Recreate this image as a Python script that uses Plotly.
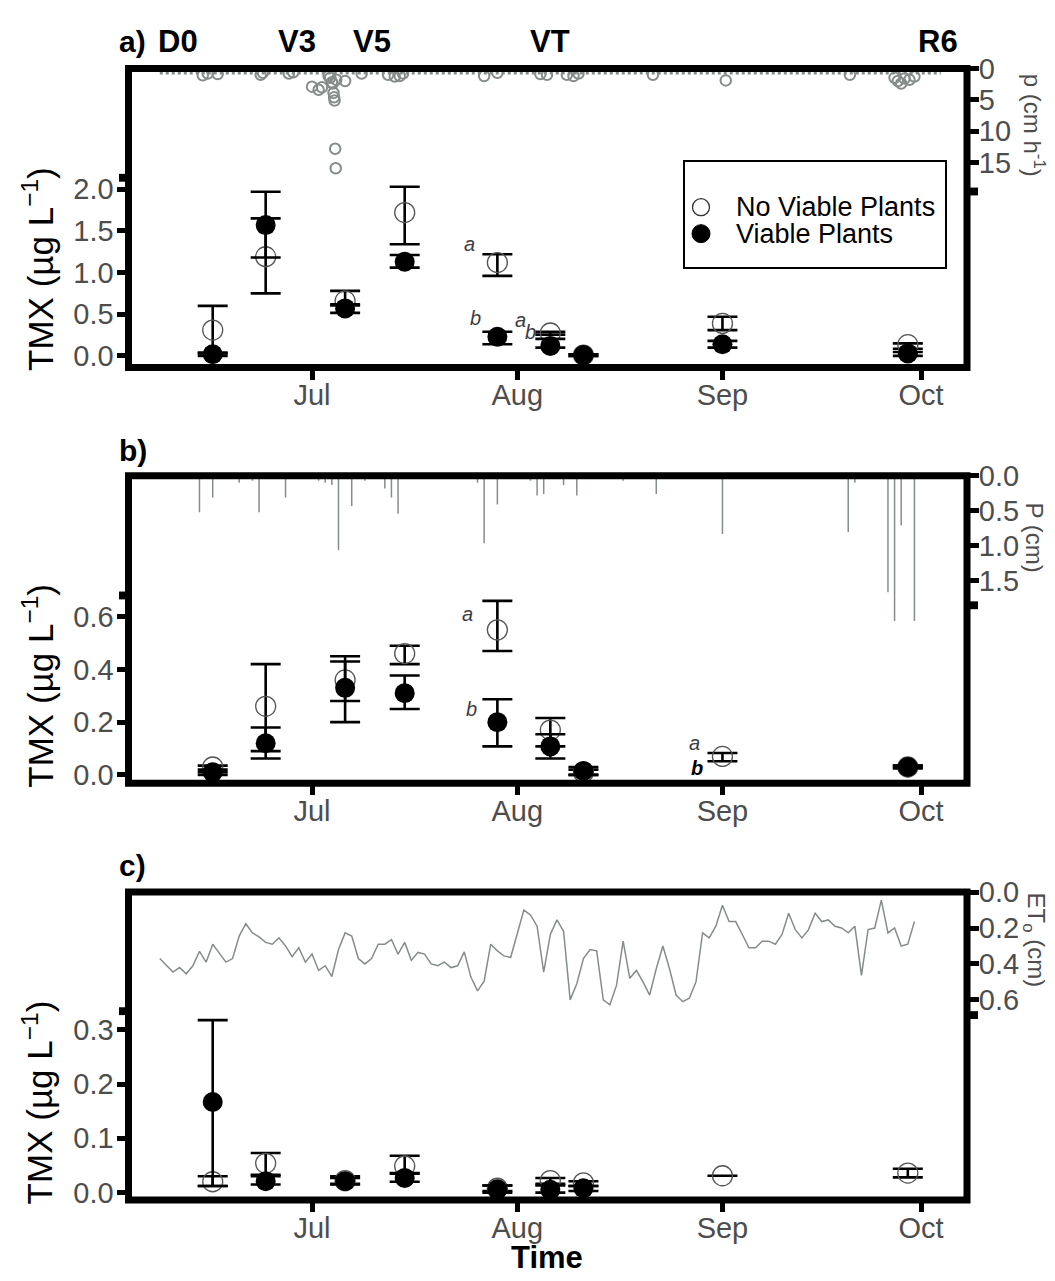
import plotly.graph_objects as go
import pandas as pd

W, H = 1055, 1281
FONT = "Liberation Sans, Arial, sans-serif"
GREY_TXT = "#4D4D4D"
RAIN_COL = "#858D8A"

# ---------------- data ----------------
sample_dates = ["2019-06-16", "2019-06-24", "2019-07-06", "2019-07-15", "2019-07-29",
                "2019-08-06", "2019-08-11", "2019-09-01", "2019-09-29"]

# panel a (TMX, ug/L)
nv_a = [0.31, 1.19, 0.66, 1.72, 1.12, 0.275, 0.01, 0.39, 0.135]
nv_a_lo = [0.03, 0.75, 0.605, 1.34, 0.96, 0.255, 0.0, 0.31, 0.086]
nv_a_hi = [0.60, 1.97, 0.78, 2.03, 1.22, 0.29, 0.02, 0.47, 0.15]
v_a = [0.02, 1.57, 0.57, 1.13, 0.23, 0.12, 0.01, 0.14, 0.03]
v_a_lo = [0.0, 1.18, 0.516, 1.06, 0.14, 0.10, 0.0, 0.10, 0.0]
v_a_hi = [0.04, 1.65, 0.62, 1.21, 0.29, 0.205, 0.02, 0.18, 0.047]

# panel b
nv_b = [0.03, 0.26, 0.36, 0.46, 0.55, 0.17, 0.01, 0.07, 0.03]
nv_b_lo = [0.01, 0.09, 0.28, 0.42, 0.47, 0.108, 0.0, 0.052, 0.025]
nv_b_hi = [0.035, 0.42, 0.43, 0.49, 0.66, 0.216, 0.02, 0.083, 0.035]
v_b = [0.01, 0.12, 0.33, 0.31, 0.20, 0.108, 0.015, None, 0.03]
v_b_lo = [0.0, 0.062, 0.20, 0.25, 0.108, 0.062, 0.0, None, 0.025]
v_b_hi = [0.02, 0.18, 0.45, 0.377, 0.287, 0.154, 0.03, None, 0.035]

# panel c
nv_c = [0.02, 0.054, 0.022, 0.049, 0.008, 0.022, 0.018, 0.031, 0.036]
nv_c_lo = [0.012, 0.033, 0.016, 0.035, 0.003, 0.016, 0.012, 0.031, 0.028]
nv_c_hi = [0.03, 0.073, 0.03, 0.068, 0.013, 0.027, 0.021, 0.031, 0.044]
v_c = [0.167, 0.021, 0.021, 0.027, 0.006, 0.005, 0.008, None, None]
v_c_lo = [0.012, 0.015, 0.015, 0.020, 0.0, 0.0, 0.003, None, None]
v_c_hi = [0.318, 0.03, 0.027, 0.036, 0.013, 0.013, 0.012, None, None]

# hourly rainfall intensity (cm/h), panel a
rain_hr_time = ["2019-06-14 12:00", "2019-06-15 06:00", "2019-06-16 18:00", "2019-06-23 06:00",
                "2019-06-23 14:00", "2019-06-27 12:00", "2019-06-28 04:00", "2019-07-01 00:00",
                "2019-07-02 00:00", "2019-07-02 12:00", "2019-07-03 12:00", "2019-07-03 18:00",
                "2019-07-04 00:00", "2019-07-04 03:00", "2019-07-04 06:00", "2019-07-04 08:00",
                "2019-07-04 10:00", "2019-07-04 12:00", "2019-07-04 14:00", "2019-07-04 16:00",
                "2019-07-06 00:00", "2019-07-08 12:00", "2019-07-12 12:00", "2019-07-13 12:00",
                "2019-07-14 06:00", "2019-07-14 18:00", "2019-07-27 00:00", "2019-07-29 00:00",
                "2019-08-04 12:00", "2019-08-05 12:00", "2019-08-08 12:00", "2019-08-09 12:00",
                "2019-08-10 06:00", "2019-08-21 12:00", "2019-09-01 12:00", "2019-09-20 06:00",
                "2019-09-27 00:00", "2019-09-27 12:00", "2019-09-28 00:00", "2019-09-28 12:00",
                "2019-09-29 06:00", "2019-09-30 00:00"]
rain_hr_val = [1.1, 0.8, 0.9, 1.0, 0.7, 0.8, 0.6, 2.9, 3.4, 3.0, 1.2, 1.5, 2.2, 2.4, 3.9, 4.6,
               5.1, 12.8, 15.9, 1.8, 2.0, 0.8, 1.0, 1.3, 1.2, 0.8, 1.2, 0.7, 0.9, 1.0, 1.0, 1.2,
               0.8, 1.0, 1.9, 1.0, 1.5, 2.0, 2.4, 1.6, 1.8, 1.3]
rain_zero_period = ["2019-06-08", "2019-10-04"]
rain_zero_level = 0.75

# daily precipitation (cm), panel b
rain_day_date = ["2019-06-14", "2019-06-16", "2019-06-20", "2019-06-22", "2019-06-23", "2019-06-27",
                 "2019-07-02", "2019-07-03", "2019-07-04", "2019-07-05", "2019-07-07", "2019-07-09",
                 "2019-07-12", "2019-07-13", "2019-07-14", "2019-07-26", "2019-07-27", "2019-07-29",
                 "2019-08-03", "2019-08-04", "2019-08-05", "2019-08-08", "2019-08-10", "2019-08-17",
                 "2019-08-22", "2019-09-01", "2019-09-20", "2019-09-21", "2019-09-26", "2019-09-27",
                 "2019-09-28", "2019-09-30"]
rain_day_val = [0.52, 0.31, 0.10, 0.07, 0.52, 0.31, 0.07, 0.10, 0.13, 1.06, 0.43, 0.07,
                0.18, 0.31, 0.54, 0.10, 0.96, 0.41, 0.07, 0.28, 0.26, 0.13, 0.28, 0.07,
                0.26, 0.83, 0.80, 0.10, 1.66, 2.07, 0.71, 2.07]

# daily reference ET (cm), panel c, from 2019-06-08
et_start = "2019-06-08"
et_val = [0.37, 0.41, 0.445, 0.42, 0.455, 0.41, 0.33, 0.39, 0.29, 0.34, 0.39, 0.37, 0.245, 0.176,
          0.227, 0.249, 0.28, 0.29, 0.255, 0.30, 0.36, 0.31, 0.39, 0.345, 0.436, 0.41, 0.47, 0.32,
          0.227, 0.245, 0.37, 0.40, 0.37, 0.29, 0.29, 0.264, 0.345, 0.28, 0.38, 0.336, 0.345, 0.40,
          0.41, 0.39, 0.42, 0.41, 0.333, 0.473, 0.55, 0.496, 0.29, 0.327, 0.355, 0.364, 0.236, 0.10,
          0.127, 0.19, 0.445, 0.236, 0.155, 0.218, 0.60, 0.51, 0.37, 0.32, 0.327, 0.60, 0.627, 0.518,
          0.273, 0.48, 0.436, 0.50, 0.573, 0.427, 0.30, 0.427, 0.573, 0.61, 0.59, 0.50, 0.227, 0.255,
          0.19, 0.073, 0.164, 0.164, 0.236, 0.31, 0.31, 0.273, 0.273, 0.29, 0.236, 0.118, 0.209,
          0.255, 0.209, 0.118, 0.164, 0.155, 0.19, 0.20, 0.227, 0.19, 0.464, 0.209, 0.20, 0.045,
          0.227, 0.20, 0.30, 0.29, 0.164]
et_dates = pd.date_range(et_start, periods=len(et_val), freq="D")

month_ticks = ["2019-07-01", "2019-08-01", "2019-09-01", "2019-10-01"]
month_labels = ["Jul", "Aug", "Sep", "Oct"]

stage_names = ["D0", "V3", "V5", "VT", "R6"]
stage_dates = ["2019-06-10 18:00", "2019-06-28 16:00", "2019-07-10", "2019-08-06", "2019-10-03 12:00"]

legend_names = ["No Viable Plants", "Viable Plants"]

# significance letters: (panel, date, y, text, xshift, yshift, bold)
letters = [
    ("a", "2019-07-29", 1.22, "a", -28, 10, False),
    ("a", "2019-07-29", 0.29, "b", -22, 14, False),
    ("a", "2019-08-06", 0.29, "a", -30, 12, False),
    ("a", "2019-08-06", 0.26, "b", -20, 2, False),
    ("b", "2019-07-29", 0.61, "a", -30, 0, False),
    ("b", "2019-07-29", 0.25, "b", -26, 0, False),
    ("b", "2019-09-01", 0.12, "a", -28, 0, False),
    ("b", "2019-09-01", 0.027, "b", -25, 0, True),
]


def errs(mean, lo, hi):
    plus = [None if m is None else h - m for m, h in zip(mean, hi)]
    minus = [None if m is None else m - l for m, l in zip(mean, lo)]
    return plus, minus


fig = go.Figure()

panel_axes = {"a": ("x", "y", "y2"), "b": ("x2", "y3", "y4"), "c": ("x3", "y5", "y6")}
panel_data = {
    "a": (nv_a, nv_a_lo, nv_a_hi, v_a, v_a_lo, v_a_hi),
    "b": (nv_b, nv_b_lo, nv_b_hi, v_b, v_b_lo, v_b_hi),
    "c": (nv_c, nv_c_lo, nv_c_hi, v_c, v_c_lo, v_c_hi),
}

# secondary series (drawn on the right axes)
fig.add_trace(go.Scatter(x=rain_zero_period, y=[rain_zero_level, rain_zero_level], mode="lines",
                         line=dict(color=RAIN_COL, width=2.5, dash="dot"), xaxis="x", yaxis="y2",
                         showlegend=False, hoverinfo="skip"))
fig.add_trace(go.Scatter(x=rain_hr_time, y=rain_hr_val, mode="markers",
                         marker=dict(symbol="circle-open", size=10.5, color=RAIN_COL,
                                     line=dict(width=2, color=RAIN_COL)),
                         xaxis="x", yaxis="y2", showlegend=False))
bx, by = [], []
for d, v in zip(rain_day_date, rain_day_val):
    bx += [d, d, None]
    by += [0, v, None]
fig.add_trace(go.Scatter(x=bx, y=by, mode="lines", line=dict(color=RAIN_COL, width=1.5),
                         xaxis="x2", yaxis="y4", showlegend=False))
fig.add_trace(go.Scatter(x=et_dates, y=et_val, mode="lines", line=dict(color=RAIN_COL, width=1.5),
                         xaxis="x3", yaxis="y6", showlegend=False))

# TMX series
for p in ["a", "b", "c"]:
    xa, ya, _ = panel_axes[p]
    nv, nvl, nvh, v, vl, vh = panel_data[p]
    ep, em = errs(nv, nvl, nvh)
    fig.add_trace(go.Scatter(
        x=sample_dates, y=nv, mode="markers", name=legend_names[0],
        marker=dict(symbol="circle-open", size=20, color="#555555", line=dict(width=1.3, color="#555555")),
        error_y=dict(type="data", symmetric=False, array=ep, arrayminus=em, color="black",
                     thickness=2.6, width=15),
        xaxis=xa, yaxis=ya, showlegend=False))
    ep, em = errs(v, vl, vh)
    fig.add_trace(go.Scatter(
        x=sample_dates, y=v, mode="markers", name=legend_names[1],
        marker=dict(symbol="circle", size=20, color="black"),
        error_y=dict(type="data", symmetric=False, array=ep, arrayminus=em, color="black",
                     thickness=2.6, width=15),
        xaxis=xa, yaxis=ya, showlegend=False))

# ---------------- layout ----------------
def px(x):
    return x / W


def py(y):
    return 1 - y / H


FL, FR = 128.5, 967
frames = {"a": (53.5, 358.5), "b": (469.0, 782.5), "c": (893.5, 1207.5)}
x_range = ["2019-06-03 06:43", "2019-10-07 22:34"]

tick_font = dict(family=FONT, size=29, color=GREY_TXT)
xdom = [px(FL), px(FR)]

common_x = dict(range=x_range, tickvals=month_ticks, ticktext=month_labels, ticks="outside",
                ticklen=11, tickwidth=5, tickcolor="black", showgrid=False, zeroline=False,
                showline=False, tickfont=tick_font, ticklabelstandoff=-9)
common_y = dict(ticks="outside", ticklen=11, tickwidth=5, tickcolor="black", showgrid=False,
                zeroline=False, showline=False, tickfont=tick_font)

left_cfg = {
    "a": dict(range=[-0.139, 3.449], tickvals=[0, 0.5, 1.0, 1.5, 2.0],
              ticktext=["0.0", "0.5", "1.0", "1.5", "2.0"]),
    "b": dict(range=[-0.0316, 1.134], tickvals=[0, 0.2, 0.4, 0.6],
              ticktext=["0.0", "0.2", "0.4", "0.6"]),
    "c": dict(range=[-0.01355, 0.554], tickvals=[0, 0.1, 0.2, 0.3],
              ticktext=["0.0", "0.1", "0.2", "0.3"]),
}
right_cfg = {
    "a": dict(range=[47.66, 0], tickvals=[0, 5, 10, 15], ticktext=["0", "5", "10", "15"]),
    "b": dict(range=[4.385, 0], tickvals=[0, 0.5, 1.0, 1.5], ticktext=["0.0", "0.5", "1.0", "1.5"]),
    "c": dict(range=[1.713, 0], tickvals=[0, 0.2, 0.4, 0.6], ticktext=["0.0", "0.2", "0.4", "0.6"]),
}

layout = dict(width=W, height=H, margin=dict(l=0, r=0, t=0, b=0), plot_bgcolor="white",
              paper_bgcolor="white", font=dict(family=FONT), showlegend=False)
for i, p in enumerate(["a", "b", "c"]):
    top, bot = frames[p]
    xa, ya, ya2 = panel_axes[p]
    xk = "xaxis" if xa == "x" else "xaxis" + xa[1:]
    yk = "yaxis" if ya == "y" else "yaxis" + ya[1:]
    yk2 = "yaxis" + ya2[1:]
    layout[xk] = dict(common_x, domain=xdom, anchor=ya)
    layout[yk] = dict(common_y, domain=[py(bot), py(top)], anchor=xa, ticklabelstandoff=-3,
                      **left_cfg[p])
    layout[yk2] = dict(common_y, overlaying=ya, side="right", anchor=xa, ticklabelstandoff=-6,
                       **right_cfg[p])

shapes = []
for p in ["a", "b", "c"]:
    top, bot = frames[p]
    shapes.append(dict(type="rect", xref="paper", yref="paper", x0=px(FL), x1=px(FR),
                       y0=py(bot), y1=py(top), line=dict(color="black", width=7), layer="above"))
# axis-end notches of the overlaid panels
for yc in [179, 601, 1019]:
    shapes.append(dict(type="rect", xref="paper", yref="paper", x0=px(970), x1=px(978),
                       y0=py(yc + 4), y1=py(yc - 4), line=dict(width=0), fillcolor="black"))
for yc in [165, 591, 1015]:
    shapes.append(dict(type="rect", xref="paper", yref="paper", x0=px(119), x1=px(126),
                       y0=py(yc + 4), y1=py(yc - 4), line=dict(width=0), fillcolor="black"))
# legend box and keys
shapes.append(dict(type="rect", xref="paper", yref="paper", x0=px(684), x1=px(946),
                   y0=py(257), y1=py(148), line=dict(color="black", width=2), fillcolor="white",
                   layer="below"))
key_y = [195, 222]
shapes.append(dict(type="circle", xref="paper", yref="paper", xsizemode="pixel", ysizemode="pixel",
                   xanchor=px(701), yanchor=py(key_y[0]), x0=-8.5, x1=8.5, y0=-8.5, y1=8.5,
                   line=dict(color="#333333", width=1.3), fillcolor="rgba(0,0,0,0)"))
shapes.append(dict(type="circle", xref="paper", yref="paper", xsizemode="pixel", ysizemode="pixel",
                   xanchor=px(701), yanchor=py(key_y[1]), x0=-9, x1=9, y0=-9, y1=9,
                   line=dict(color="black", width=1), fillcolor="black"))
layout["shapes"] = shapes

ann = []
for name, yk in zip(legend_names, key_y):
    ann.append(dict(text=name, xref="paper", yref="paper", x=px(734), y=py(yk), xanchor="left",
                    yanchor="middle", showarrow=False,
                    font=dict(family=FONT, size=27, color="black")))
for lab, yc in [("a)", 26), ("b)", 443), ("c)", 866)]:
    ann.append(dict(text="<b>%s</b>" % lab, xref="paper", yref="paper", x=px(117), y=py(yc),
                    xanchor="left", yanchor="middle", showarrow=False,
                    font=dict(family=FONT, size=30, color="black")))
for name, d in zip(stage_names, stage_dates):
    ann.append(dict(text="<b>%s</b>" % name, xref="x", yref="paper", x=d, y=py(26),
                    xanchor="center", yanchor="middle", showarrow=False,
                    font=dict(family=FONT, size=31, color="black")))
ann.append(dict(text="<b>Time</b>", xref="paper", yref="paper", x=px(547), y=py(1266),
                xanchor="center", yanchor="middle", showarrow=False,
                font=dict(family=FONT, size=31, color="black")))
for yc in [258, 683, 1108]:
    ann.append(dict(text="TMX (\u00b5g L<sup>\u22121</sup>)", xref="paper", yref="paper",
                    x=px(38), y=py(yc), textangle=-90, xanchor="center", yanchor="middle",
                    showarrow=False, font=dict(family=FONT, size=35, color="black")))
for txt, yc in [("p (cm h<sup>-1</sup>)", 111), ("P (cm)", 532), ("ET<sub>o</sub> (cm)", 942)]:
    ann.append(dict(text=txt, xref="paper", yref="paper", x=px(1034), y=py(yc), textangle=90,
                    xanchor="center", yanchor="middle", showarrow=False,
                    font=dict(family=FONT, size=24, color=GREY_TXT)))
for p, d, yv, t, xs, ys, bold in letters:
    xa, ya, _ = panel_axes[p]
    txt = "<b><i>%s</i></b>" % t if bold else "<i>%s</i>" % t
    ann.append(dict(text=txt, xref=xa, yref=ya, x=d, y=yv, xshift=xs, yshift=ys, showarrow=False,
                    font=dict(family=FONT, size=20, color="black" if bold else "#3C3C46")))
layout["annotations"] = ann

fig.update_layout(**layout)
fig.write_html("out.html")
